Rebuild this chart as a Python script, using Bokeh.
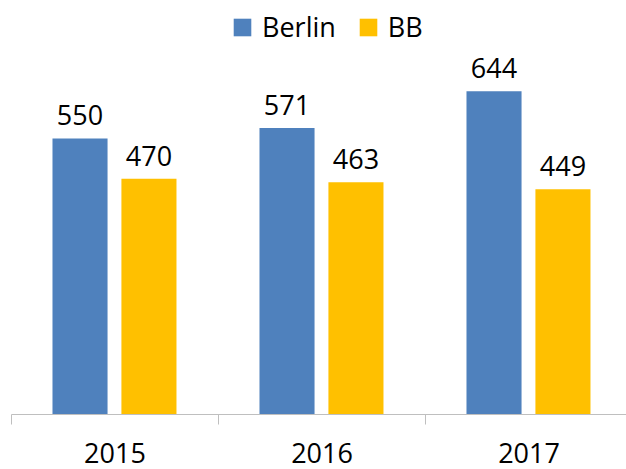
from bokeh.plotting import figure
from bokeh.models import ColumnDataSource, Range1d, FixedTicker, Legend, LegendItem, LinearAxis
from bokeh.transform import dodge
from bokeh.core.properties import value
from bokeh.embed import file_html
from bokeh.resources import INLINE

years = ["2015", "2016", "2017"]
berlin = [550, 571, 644]
bb = [470, 463, 449]

FONT = "Open Sans"
pos = [i + 0.5 for i in range(len(years))]
src = ColumnDataSource(dict(x=pos, berlin=berlin, bb=bb,
                            bl=[str(v) for v in berlin], bbl=[str(v) for v in bb]))

p = figure(width=626, height=469, output_backend="svg", toolbar_location=None,
           x_range=Range1d(0, 2.971), y_range=Range1d(0, 825),
           min_border_left=11, min_border_right=0, min_border_top=0, min_border_bottom=55,
           x_axis_location=None, y_axis_location=None)
p.outline_line_color = None
p.grid.visible = False
p.background_fill_color = "white"
p.border_fill_color = "white"

r1 = p.vbar(x=dodge("x", -0.169, range=p.x_range), top="berlin", width=0.266, source=src,
            fill_color="#4F81BD", line_color=None)
r2 = p.vbar(x=dodge("x", 0.164, range=p.x_range), top="bb", width=0.266, source=src,
            fill_color="#FFC000", line_color=None)

# label gap above bars expressed in data units (about 0.5 px per unit)
GAP = 26
p.text(x=dodge("x", -0.169, range=p.x_range), y=dodge("berlin", GAP, range=p.y_range),
       text="bl", source=src,
       text_font=value(FONT), text_font_size="27px", text_align="center",
       text_baseline="bottom", text_color="#000000")
p.text(x=dodge("x", 0.164, range=p.x_range), y=dodge("bb", GAP, range=p.y_range),
       text="bbl", source=src,
       text_font=value(FONT), text_font_size="27px", text_align="center",
       text_baseline="bottom", text_color="#000000")

ax = LinearAxis(ticker=FixedTicker(ticks=pos, minor_ticks=[0, 1, 2]))
ax.major_label_overrides = {pv: y for pv, y in zip(pos, years)}
ax.major_tick_out = 0
ax.major_tick_in = 0
ax.minor_tick_out = 10
ax.minor_tick_in = 0
ax.minor_tick_line_color = "#BFBFBF"
ax.axis_line_color = "#BFBFBF"
ax.major_label_text_font = FONT
ax.major_label_text_font_size = "27px"
ax.major_label_text_color = "#000000"
ax.major_label_standoff = 18
p.add_layout(ax, "below")

legend = Legend(items=[LegendItem(label="Berlin", renderers=[r1]),
                       LegendItem(label="BB", renderers=[r2])],
                orientation="horizontal", location=(220, 369),
                glyph_width=22, glyph_height=22, label_standoff=9, spacing=21,
                label_text_font=FONT, label_text_font_size="27px",
                label_text_color="#000000", padding=0, margin=0,
                border_line_color=None, background_fill_alpha=0)
p.add_layout(legend, "center")

open("out.html", "w").write(file_html(p, INLINE))
